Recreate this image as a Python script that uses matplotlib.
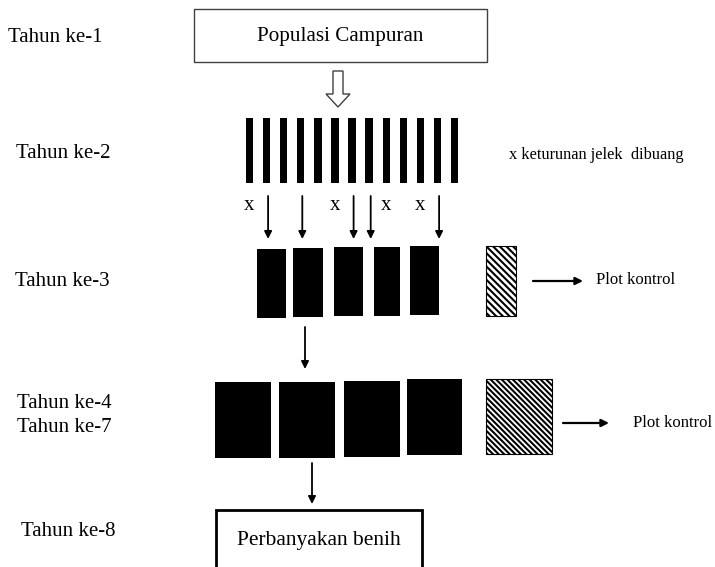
import matplotlib
matplotlib.use('Agg')
import matplotlib.pyplot as plt
import matplotlib.patches as mpatches

plt.rcParams['font.family'] = ['Liberation Serif', 'DejaVu Serif']
plt.rcParams['hatch.linewidth'] = 1.5

# teks / label
tahun_labels = ['Tahun ke-1', 'Tahun ke-2', 'Tahun ke-3', 'Tahun ke-4', 'Tahun ke-7', 'Tahun ke-8']
judul_awal = 'Populasi Campuran'
judul_akhir = 'Perbanyakan benih'
ket_buang = 'x keturunan jelek  dibuang'
ket_kontrol = 'Plot kontrol'

# tahun ke-2: 13 galur, mana yang dibuang (x) dan yang dipilih (panah)
n_galur = 13
galur_dibuang = [0, 5, 8, 10]
galur_dipilih = [1, 3, 6, 7, 11]

# tahun ke-3 dan ke-4: jumlah plot
n_plot_3 = 5
n_plot_4 = 4

fig = plt.figure(figsize=(7.15, 5.67), dpi=100)
ax = fig.add_axes([0, 0, 1, 1])
ax.set_xlim(0, 715)
ax.set_ylim(567, 0)
ax.axis('off')

# label tahun di kiri
lab_x = [8, 16, 15, 17, 17, 21]
lab_y = [37, 153, 282, 403, 427, 531]
for t, x, y in zip(tahun_labels, lab_x, lab_y):
    ax.text(x, y, t, fontsize=15, ha='left', va='center')

# kotak atas
ax.add_patch(mpatches.Rectangle((194, 9), 293, 53, fc='white', ec='#404040', lw=1))
ax.text(340, 37, judul_awal, fontsize=15.2, ha='center', va='center')

# panah kosong
ax.add_patch(mpatches.FancyArrow(338, 71, 0, 36, width=10, head_width=24, head_length=13,
                                 length_includes_head=True, fc='white', ec='#404040', lw=1))

# tahun ke-2: garis-garis galur
for i in range(n_galur):
    x0 = 245.7 + i * 17.1
    ax.add_patch(mpatches.Rectangle((x0, 118), 7.4, 65, fc='black', ec='none'))
ax.text(509, 155, ket_buang, fontsize=11.8, ha='left', va='center')

for i in galur_dibuang:
    ax.text(249.5 + i * 17.1, 205, 'x', fontsize=15, ha='center', va='center')
for i in galur_dipilih:
    xc = 249.5 + i * 17.1 + 1.5
    ax.annotate('', xy=(xc, 239), xytext=(xc, 196),
                arrowprops=dict(arrowstyle='-|>', color='black', lw=1.3,
                                mutation_scale=11, shrinkA=0, shrinkB=0))

# tahun ke-3
p3_x = [257, 293, 334, 374, 410]
p3_w = [29, 30, 29, 26, 29]
p3_top = [249, 248, 247, 247, 246]
for k in range(n_plot_3):
    ax.add_patch(mpatches.Rectangle((p3_x[k], p3_top[k]), p3_w[k], 69, fc='black', ec='none'))
ax.add_patch(mpatches.Rectangle((486, 246), 30, 70, fc='white', ec='black', lw=0.8, hatch='\\' * 5))
ax.annotate('', xy=(583, 281), xytext=(533, 281),
            arrowprops=dict(arrowstyle='-|>', color='black', lw=1.6, mutation_scale=11,
                            shrinkA=0, shrinkB=0))
ax.text(596, 280, ket_kontrol, fontsize=12, ha='left', va='center')

ax.annotate('', xy=(305, 369), xytext=(305, 327),
            arrowprops=dict(arrowstyle='-|>', color='black', lw=1.3, mutation_scale=11,
                            shrinkA=0, shrinkB=0))

# tahun ke-4 s/d ke-7
p4_x = [215, 279, 344, 407]
p4_w = [56, 56, 56, 55]
p4_top = [382, 382, 381, 379]
for k in range(n_plot_4):
    ax.add_patch(mpatches.Rectangle((p4_x[k], p4_top[k]), p4_w[k], 76, fc='black', ec='none'))
ax.add_patch(mpatches.Rectangle((486, 379), 66, 75, fc='white', ec='black', lw=0.8, hatch='\\' * 6))
ax.annotate('', xy=(609, 423), xytext=(563, 423),
            arrowprops=dict(arrowstyle='-|>', color='black', lw=1.6, mutation_scale=11,
                            shrinkA=0, shrinkB=0))
ax.text(633, 423, ket_kontrol, fontsize=12, ha='left', va='center')

ax.annotate('', xy=(312, 504), xytext=(312, 463),
            arrowprops=dict(arrowstyle='-|>', color='black', lw=1.3, mutation_scale=11,
                            shrinkA=0, shrinkB=0))

# kotak bawah
ax.add_patch(mpatches.Rectangle((216, 510), 206, 70, fc='white', ec='black', lw=2))
ax.text(319, 540, judul_akhir, fontsize=15.5, ha='center', va='center')

fig.savefig('out.png', dpi=100)
